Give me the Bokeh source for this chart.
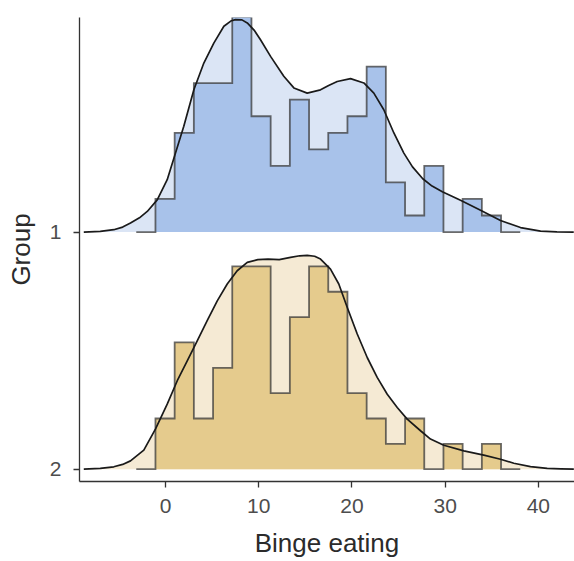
from bokeh.plotting import figure
from bokeh.models import FixedTicker, Range1d
from bokeh.embed import file_html
from bokeh.resources import INLINE

# ---------------- data ----------------
group_labels = ["1", "2"]          # group 1 on top, group 2 at bottom
x_ticks = [0, 10, 20, 30, 40]

# histogram bin edges (Binge eating score) and counts per group
bin_edges = [-1.08, 0.98, 3.04, 5.10, 7.16, 9.22, 11.28, 13.34, 15.40, 17.46,
             19.52, 21.58, 23.64, 25.70, 27.76, 29.82, 31.88, 33.94, 36.00]
counts_g1 = [2, 6, 9, 9, 13, 7, 4, 8, 5, 6, 7, 10, 3, 1, 4, 0, 2, 1]
counts_g2 = [2, 5, 2, 4, 8, 8, 3, 6, 8, 7, 3, 2, 1, 2, 0, 1, 0, 1]

# density curves (height relative to ridge spacing)
dens_x_g1 = [-8.77, -7.00, -5.55, -4.60, -3.76, -2.80, -1.96, -0.89, 0.18, 1.07,
             1.96, 3.04, 4.11, 5.18, 6.26, 7.00, 7.51, 8.20, 8.77, 9.50, 10.19,
             11.27, 12.69, 13.77, 15.20, 16.63, 17.50, 18.42, 19.85, 21.28,
             22.35, 23.42, 24.50, 25.57, 26.50, 27.60, 28.60, 29.70, 31.65,
             33.80, 35.94, 38.09, 40.24, 42.00, 43.80]
dens_y_g1 = [0.0, 0.003, 0.010, 0.021, 0.038, 0.060, 0.087, 0.136, 0.221, 0.333,
             0.446, 0.600, 0.713, 0.797, 0.868, 0.890, 0.896, 0.895, 0.882, 0.852,
             0.811, 0.741, 0.657, 0.608, 0.586, 0.600, 0.618, 0.635, 0.647, 0.629,
             0.586, 0.516, 0.418, 0.333, 0.275, 0.225, 0.194, 0.170, 0.134,
             0.092, 0.049, 0.019, 0.004, 0.001, 0.0]

dens_x_g2 = [-8.77, -7.00, -5.55, -4.60, -3.76, -2.33, -1.07, 0.18, 1.26, 2.33,
             3.40, 4.47, 5.55, 6.62, 7.69, 8.77, 9.90, 11.00, 12.20, 13.41,
             14.40, 15.20, 16.00, 16.63, 17.70, 18.59, 19.50, 20.57, 21.64,
             22.71, 23.79, 24.86, 25.93, 27.36, 28.43, 29.86, 32.01, 34.15,
             35.94, 37.37, 39.16, 40.95, 42.40, 43.81]
dens_y_g2 = [0.0, 0.003, 0.010, 0.020, 0.035, 0.080, 0.170, 0.274, 0.373, 0.457,
             0.541, 0.626, 0.710, 0.781, 0.837, 0.872, 0.884, 0.886, 0.884, 0.893,
             0.900, 0.902, 0.898, 0.886, 0.844, 0.781, 0.682, 0.570, 0.471,
             0.387, 0.316, 0.260, 0.211, 0.162, 0.127, 0.101, 0.077, 0.059,
             0.042, 0.025, 0.011, 0.003, 0.001, 0.0]

# ---------------- styling ----------------
FONT = "Liberation Sans"
ridges = [
    # baseline, counts, density, height per count, medium fill, light fill
    dict(base=1.0, counts=counts_g1, dx=dens_x_g1, dy=dens_y_g1, unit=0.0698,
         dark="#A8C2EA", light="#DBE5F5"),
    dict(base=0.0, counts=counts_g2, dx=dens_x_g2, dy=dens_y_g2, unit=0.1069,
         dark="#E5CB8D", light="#F5EAD4"),
]

p = figure(width=574, height=561, output_backend="svg", toolbar_location=None,
           x_range=Range1d(-9.23, 43.88), y_range=Range1d(-0.052, 1.905),
           min_border_left=79, min_border_right=0, min_border_top=17,
           min_border_bottom=80, background_fill_color="white",
           border_fill_color="white", outline_line_color=None)
p.grid.visible = False


def step_outline(edges, counts, base, unit):
    w = edges[1] - edges[0]
    e = [edges[0] - w] + list(edges) + [edges[-1] + w]
    c = [0] + list(counts) + [0]
    xs, ys = [], []
    for i, cnt in enumerate(c):
        h = base + cnt * unit
        xs += [e[i], e[i + 1]]
        ys += [h, h]
    return xs, ys


for r in ridges:
    base = r["base"]
    # density fill (light)
    p.varea(x=r["dx"], y1=[base] * len(r["dx"]),
            y2=[base + v for v in r["dy"]], fill_color=r["light"])
    # histogram fill + outline
    xs, ys = step_outline(bin_edges, r["counts"], base, r["unit"])
    p.patch(xs, ys, fill_color=r["dark"], line_color=None)
    p.line(xs, ys, line_color="#3a3a3a", line_alpha=0.75, line_width=1.8,
           line_join="miter")
    # density line
    p.line(r["dx"], [base + v for v in r["dy"]], line_color="#1a1a1a",
           line_width=1.7, line_join="round")

# axes
for ax in (p.xaxis[0], p.yaxis[0]):
    ax.axis_line_color = "#333333"
    ax.axis_line_width = 1.3
    ax.major_tick_line_color = "#333333"
    ax.major_tick_line_width = 1.3
    ax.major_tick_out = 6
    ax.major_tick_in = 0
    ax.minor_tick_line_color = None
    ax.major_label_text_font = FONT
    ax.major_label_text_font_size = "21px"
    ax.major_label_text_color = "#4D4D4D"
    ax.axis_label_text_font = FONT
    ax.axis_label_text_font_size = "26px"
    ax.axis_label_text_font_style = "normal"
    ax.axis_label_text_color = "#2b2b2b"

p.xaxis[0].ticker = FixedTicker(ticks=x_ticks)
p.xaxis[0].axis_label = "Binge eating"
p.xaxis[0].major_label_standoff = 11
p.xaxis[0].axis_label_standoff = 12

p.yaxis[0].ticker = FixedTicker(ticks=[1, 0])
p.yaxis[0].major_label_overrides = {1: group_labels[0], 0: group_labels[1]}
p.yaxis[0].axis_label = "Group"
p.yaxis[0].major_label_standoff = 12
p.yaxis[0].axis_label_standoff = 11

open("out.html", "w").write(file_html(p, INLINE))
